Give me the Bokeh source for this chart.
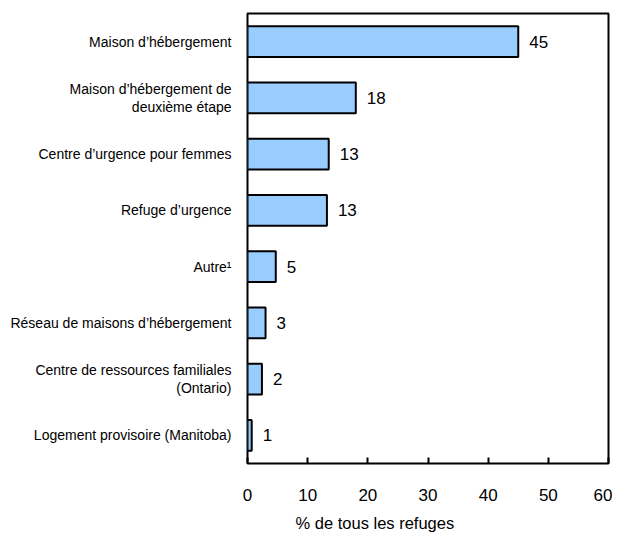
from bokeh.plotting import figure
from bokeh.models import ColumnDataSource, FactorRange, Range1d, SingleIntervalTicker, Title
from bokeh.core.properties import value
from bokeh.embed import file_html
from bokeh.resources import INLINE

categories = [
    "Maison d’hébergement",
    "Maison d’hébergement de\ndeuxième étape",
    "Centre d’urgence pour femmes",
    "Refuge d’urgence",
    "Autre¹",
    "Réseau de maisons d’hébergement",
    "Centre de ressources familiales\n(Ontario)",
    "Logement provisoire (Manitoba)",
]
values = [45.0, 18.0, 13.5, 13.2, 4.7, 3.0, 2.4, 0.7]
value_labels = ["45", "18", "13", "13", "5", "3", "2", "1"]
x_title = "% de tous les refuges"

src = ColumnDataSource(dict(cat=categories, val=values, lab=value_labels))

p = figure(
    y_range=FactorRange(factors=list(reversed(categories)), range_padding=0),
    x_range=Range1d(0, 60),
    frame_width=361, frame_height=450,
    min_border_left=247, min_border_right=4, min_border_top=13, min_border_bottom=0,
    output_backend="svg", toolbar_location=None,
)
p.background_fill_color = "white"
p.border_fill_color = "white"
p.outline_line_color = "black"
p.outline_line_width = 2
p.xgrid.visible = False
p.ygrid.visible = False

p.hbar(y="cat", right="val", left=0, height=0.55, source=src,
       fill_color="#99CCFF", line_color="black", line_width=2)
p.text(x="val", y="cat", text="lab", source=src, x_offset=11,
       text_baseline="middle", text_align="left",
       text_font=value("Liberation Sans"), text_font_size="17px", text_color="black")

xa = p.xaxis[0]
xa.ticker = SingleIntervalTicker(interval=10)
xa.axis_line_color = None
xa.major_tick_in = 6
xa.major_tick_out = 0
xa.major_tick_line_color = "black"
xa.major_tick_line_width = 2
xa.minor_tick_line_color = None
xa.major_label_standoff = 21
xa.major_label_text_font = "Liberation Sans"
xa.major_label_text_font_size = "17px"
xa.major_label_text_color = "black"

ya = p.yaxis[0]
ya.axis_line_color = None
ya.major_tick_line_color = None
ya.minor_tick_line_color = None
ya.major_label_standoff = 10
ya.major_label_text_font = "Liberation Sans"
ya.major_label_text_font_size = "14px"
ya.major_label_text_color = "black"
ya.major_label_text_line_height = 1.15

title = Title(text=x_title, align="left", offset=48, standoff=16,
              text_font="Liberation Sans", text_font_size="16.5px",
              text_font_style="normal", text_color="black")
p.add_layout(title, "below")

open("out.html", "w").write(file_html(p, INLINE))
